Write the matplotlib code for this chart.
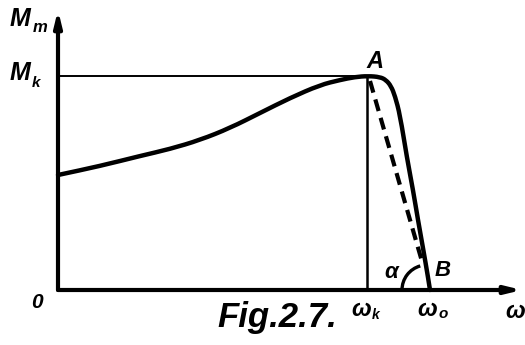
import matplotlib
matplotlib.use("Agg")
import matplotlib.pyplot as plt
from matplotlib.patches import Arc, PathPatch
from matplotlib.path import Path
import numpy as np

# speed-torque characteristic, torque M over angular speed omega
omega = [0.00, 0.42, 0.82, 1.12, 1.42, 1.72, 2.02, 2.32, 2.62, 2.82, 2.97, 3.10,
         3.22, 3.28, 3.33, 3.37, 3.42, 3.49, 3.55, 3.60, 3.65, 3.70, 3.72]
torque = [1.15, 1.24, 1.34, 1.41, 1.50, 1.62, 1.77, 1.92, 2.05, 2.10, 2.13, 2.14,
          2.13, 2.10, 2.04, 1.94, 1.75, 1.32, 1.00, 0.70, 0.42, 0.13, 0.00]
M_k = 2.14      # peak torque (point A)
w_k = 3.09      # speed at peak torque
w_0 = 3.72      # no-load speed (point B)
alpha_r = 0.25  # radius of the angle mark

fig = plt.figure(figsize=(5.25, 3.45), dpi=100)
ax = fig.add_axes([0, 0, 1, 1])
ax.set_xlim(-0.58, 4.67)
ax.set_ylim(-0.55, 2.90)
ax.set_aspect("equal")
ax.axis("off")

ink = "black"
lab = dict(color=ink, fontstyle="italic", fontweight="bold",
           family=["Liberation Sans", "DejaVu Sans"])

# axes with arrows
arr = dict(arrowstyle="-|>,head_length=0.9,head_width=0.22", color=ink, lw=3.0,
           shrinkA=0, shrinkB=0)
ax.annotate("", xy=(0, 2.80), xytext=(0, 0), arrowprops=arr)
ax.annotate("", xy=(4.64, 0), xytext=(0, 0), arrowprops=arr)

# guide lines to A
ax.plot([0, w_k], [M_k, M_k], color=ink, lw=1.4)
ax.plot([w_k, w_k], [0, M_k], color=ink, lw=1.8)

# characteristic, drawn as a smooth quadratic spline through the points
pts = np.column_stack([omega, torque])
mids = (pts[1:-2] + pts[2:-1]) / 2
verts = [pts[0], (pts[0] + pts[1]) / 2]
codes = [Path.MOVETO, Path.LINETO]
for i in range(1, len(pts) - 2):
    verts += [pts[i], mids[i - 1]]
    codes += [Path.CURVE3, Path.CURVE3]
verts += [pts[-2], pts[-1]]
codes += [Path.CURVE3, Path.CURVE3]
ax.add_patch(PathPatch(Path(verts, codes), fill=False, edgecolor=ink, lw=3.2,
                       capstyle="round", joinstyle="round"))

# linearised characteristic from A to omega_0
ang = np.arctan2(M_k, w_k + 0.03 - w_0)
end_x = w_0 + alpha_r * 1.12 * np.cos(ang)
end_y = alpha_r * 1.12 * np.sin(ang)
ax.plot([w_k + 0.03, end_x], [M_k - 0.05, end_y], color=ink, lw=3.0,
        dashes=(2.9, 1.7), dash_capstyle="butt")

# angle alpha
ax.add_patch(Arc((w_0 - 0.03, 0), 2 * alpha_r, 2 * alpha_r, theta1=np.degrees(ang),
                 theta2=180, color=ink, lw=2.4))

# labels
ax.text(-0.48, 2.71, "M", fontsize=18, ha="left", va="center", **lab)
ax.text(-0.25, 2.63, "m", fontsize=12, ha="left", va="center", **lab)
ax.text(-0.48, 2.17, "M", fontsize=18, ha="left", va="center", **lab)
ax.text(-0.26, 2.07, "k", fontsize=11, ha="left", va="center", **lab)
ax.text(-0.21, -0.12, "0", fontsize=15, ha="center", va="center", **lab)
ax.text(3.17, 2.29, "A", fontsize=17, ha="center", va="center", **lab)
ax.text(3.33, 0.18, "α", fontsize=16, ha="center", va="center", **lab)
ax.text(3.85, 0.19, "B", fontsize=16, ha="center", va="center", **lab)
ax.text(3.03, -0.20, "ω", fontsize=17, ha="center", va="center", **lab)
ax.text(3.14, -0.25, "k", fontsize=10, ha="left", va="center", **lab)
ax.text(3.69, -0.20, "ω", fontsize=17, ha="center", va="center", **lab)
ax.text(3.81, -0.24, "o", fontsize=11, ha="left", va="center", **lab)
ax.text(4.57, -0.22, "ω", fontsize=17, ha="center", va="center", **lab)
ax.text(2.19, -0.27, "Fig.2.7.", fontsize=25, ha="center", va="center", **lab)

fig.savefig("out.png", dpi=100)
